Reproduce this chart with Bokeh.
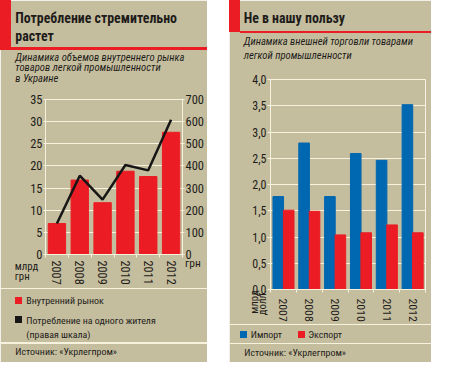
from bokeh.plotting import figure
from bokeh.models import LinearAxis, Range1d, FixedTicker, Div
from bokeh.transform import dodge
from bokeh.layouts import row, column
from bokeh.embed import file_html
from bokeh.resources import INLINE

# ---------------- data ----------------
years = ["2007", "2008", "2009", "2010", "2011", "2012"]
domestic_market = [7.0, 16.8, 11.7, 18.8, 17.6, 27.6]          # bn UAH (left scale)
consumption_per_capita = [140, 356, 248, 404, 380, 609]        # UAH (right scale)
left_ticks = [0, 5, 10, 15, 20, 25, 30, 35]
right_ticks = [0, 100, 200, 300, 400, 500, 600, 700]

imports = [1.77, 2.79, 1.77, 2.59, 2.46, 3.52]                  # bn USD
exports = [1.51, 1.49, 1.04, 1.08, 1.23, 1.08]
trade_ticks = [0, 0.5, 1.0, 1.5, 2.0, 2.5, 3.0, 3.5, 4.0]
trade_tick_labels = ["0,0", "0,5", "1,0", "1,5", "2,0", "2,5", "3,0", "3,5", "4,0"]

left_title = ["Потребление стремительно", "растет"]
left_subtitle = ["Динамика объемов внутреннего рынка",
                 "товаров легкой промышленности", "в Украине"]
left_legend = ["Внутренний рынок", "Потребление на одного жителя", "(правая шкала)"]
left_units = ["млрд", "грн", "грн"]
right_title = "Не в нашу пользу"
right_subtitle = ["Динамика внешней торговли товарами", "легкой промышленности"]
right_legend = ["Импорт", "Экспорт"]
right_units = ["млрд", "долл."]
source_text = "Источник: «Укрлегпром»"

# ---------------- style ----------------
S = 0.957                      # reference px -> page px
H = round(378 * S)
BG = "#c5be9e"
RED = "#ec1c24"
BLUE = "#0067b1"
CREAM = "#f6f2de"
BLACK = "#161616"
TXT = "#1e1c1a"
NARROW = "'Roboto Condensed', Roboto, sans-serif"
NARROW_BK = "Roboto Condensed, Roboto, sans-serif"


def box(l, t, r, b, color):
    return (f'<div style="position:absolute;left:{l * S:.2f}px;top:{t * S:.2f}px;'
            f'width:{(r - l) * S:.2f}px;height:{(b - t) * S:.2f}px;background:{color};"></div>')


def text(x, base, s, size, weight="normal", style="normal"):
    top = base - 0.845 * size
    return (f'<div style="position:absolute;left:{x * S:.2f}px;top:{top * S:.2f}px;'
            f'font-family:{NARROW};font-size:{size * S:.2f}px;line-height:1;'
            f'font-weight:{weight};font-style:{style};color:{TXT};white-space:nowrap;">{s}</div>')


def vtext(cx, cy, lines, size, length, lh):
    # block rotated about its own centre so that it reads bottom-to-top;
    # the lines end at the top of the rotated block
    w, h = length * S, len(lines) * lh * S
    body = "<br>".join(lines)
    return (f'<div style="position:absolute;left:{cx * S - w / 2:.2f}px;top:{cy * S - h / 2:.2f}px;'
            f'width:{w:.2f}px;height:{h:.2f}px;text-align:right;transform-origin:50% 50%;'
            f'transform:rotate(-90deg);font-family:{NARROW};font-size:{size * S:.2f}px;'
            f'line-height:{lh * S:.2f}px;color:{TXT};white-space:nowrap;">{body}</div>')


def overlay(width_ref, parts):
    w = round(width_ref * S)
    html = (f'<div style="position:relative;width:{w}px;height:{H}px;overflow:hidden;">'
            + "".join(parts) + '</div>')
    return Div(text=html, width=w, height=H, margin=(-H, 0, 0, 0),
               styles={"background": "transparent"})


def style_axis(ax, size):
    ax.axis_line_color = CREAM
    ax.axis_line_width = 1
    ax.major_tick_line_color = CREAM
    ax.major_tick_in = 0
    ax.major_tick_out = 2
    ax.minor_tick_line_color = None
    ax.major_label_text_font = NARROW_BK
    ax.major_label_text_font_size = f"{size * S:.2f}px"
    ax.major_label_text_color = TXT
    ax.major_label_standoff = 1


def year_axis(p, size, standoff):
    centers = [i + 0.5 for i in range(len(years))]
    bounds = list(range(len(years) + 1))
    ax = LinearAxis(ticker=FixedTicker(ticks=centers, minor_ticks=bounds),
                    major_label_overrides=dict(zip(centers, years)))
    style_axis(ax, size)
    ax.major_tick_line_color = None
    ax.major_tick_out = 0
    ax.minor_tick_line_color = CREAM
    ax.minor_tick_in = 0
    ax.minor_tick_out = 3
    ax.major_label_orientation = "vertical"
    ax.major_label_standoff = standoff
    p.add_layout(ax, "below")


def chart(width_ref, frame_l, frame_r, frame_t, frame_b, x_range, y_range):
    p = figure(width=round(width_ref * S), height=H, x_range=x_range, y_range=y_range,
               title=None, output_backend="svg", toolbar_location=None,
               x_axis_type=None,
               min_border_left=round(frame_l * S),
               min_border_right=round((width_ref - frame_r) * S),
               min_border_top=round(frame_t * S),
               min_border_bottom=round((378 - frame_b) * S))
    p.background_fill_color = BG
    p.border_fill_color = BG
    p.outline_line_color = CREAM
    p.ygrid.grid_line_color = CREAM
    return p


# ---------------- left panel (reference x 0..216) ----------------
c1 = chart(216, 47, 190, 103, 265, years, Range1d(0, 35))
c1.extra_y_ranges = {"right": Range1d(0, 700)}
c1.vbar(x=years, top=domestic_market, width=0.76, color=RED)
c1.line(x=years, y=consumption_per_capita, y_range_name="right",
        line_color=BLACK, line_width=2.5)
c1.yaxis.ticker = FixedTicker(ticks=left_ticks)
style_axis(c1.yaxis[0], 13)
rax = LinearAxis(y_range_name="right", ticker=FixedTicker(ticks=right_ticks))
style_axis(rax, 13)
c1.add_layout(rax, "right")
year_axis(c1, 12.8, 3)

o1 = overlay(216, [
    box(0, 0, 12, 52, RED),
    box(12, 49.5, 216, 52, RED),
    text(16, 24.3, left_title[0], 14.5, weight="bold"),
    text(16, 44, left_title[1], 14.5, weight="bold"),
    text(16, 64.3, left_subtitle[0], 11.1, style="italic"),
    text(16, 75.7, left_subtitle[1], 11.1, style="italic"),
    text(16, 87.1, left_subtitle[2], 11.1, style="italic"),
    text(15.5, 283.3, left_units[0], 11.3),
    text(15.5, 294, left_units[1], 11.3),
    text(193.3, 280, left_units[2], 12),
    box(0, 300.5, 216, 301.7, CREAM),
    box(16, 310.7, 23, 317.5, RED),
    text(27.5, 318, left_legend[0], 10.4),
    box(16, 330.7, 23, 337.5, BLACK),
    text(27.5, 338.5, left_legend[1], 10.4),
    text(27.5, 353.5, left_legend[2], 10.4),
    box(0, 357.8, 216, 359, CREAM),
    text(16, 371, source_text, 10.4),
])
left_panel = column(c1, o1, spacing=0)

# ---------------- right panel (reference x 239..450) ----------------
X0 = 239
c2 = chart(450 - X0, 282 - X0, 444 - X0, 83, 302, years, Range1d(0, 4))
src = dict(x=years, imp=imports, exp=exports)
c2.vbar(x=dodge("x", -0.2, range=c2.x_range), top="imp", width=0.41,
        color=BLUE, source=src)
c2.vbar(x=dodge("x", 0.205, range=c2.x_range), top="exp", width=0.41,
        color=RED, source=src)
c2.yaxis.ticker = FixedTicker(ticks=trade_ticks)
c2.yaxis.major_label_overrides = dict(zip(trade_ticks, trade_tick_labels))
style_axis(c2.yaxis[0], 12.5)
c2.yaxis.major_tick_out = 3
year_axis(c2, 12.3, 6)

o2 = overlay(450 - X0, [
    box(0, 0, 250 - X0, 33, RED),
    box(250 - X0, 32, 450 - X0, 34.5, RED),
    text(254.3 - X0, 25, right_title, 14.5, weight="bold"),
    text(254.3 - X0, 48.5, right_subtitle[0], 11.1, style="italic"),
    text(254.3 - X0, 63, right_subtitle[1], 11.1, style="italic"),
    vtext(269.5 - X0, 319, right_units, 11.2, 32, 8),
    box(0, 338.7, 450 - X0, 339.9, CREAM),
    box(251 - X0, 346, 258.3 - X0, 352.8, BLUE),
    text(261.7 - X0, 353.3, right_legend[0], 10.4),
    box(311 - X0, 346, 318.3 - X0, 352.8, RED),
    text(321.7 - X0, 353.3, right_legend[1], 10.4),
    box(0, 358.4, 450 - X0, 359.6, CREAM),
    text(255 - X0, 372.5, source_text, 10.4),
])
right_panel = column(c2, o2, spacing=0)

layout = row(left_panel, right_panel, spacing=round(23 * S))
open("out.html", "w").write(file_html(layout, INLINE))
